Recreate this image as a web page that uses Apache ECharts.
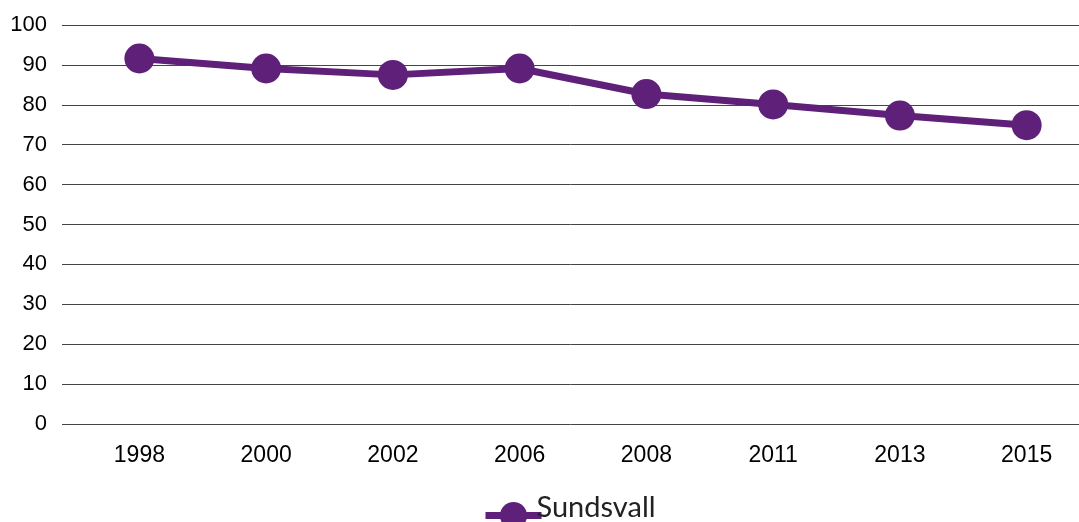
<!DOCTYPE html>
<html><head><meta charset="utf-8">
<script src="https://cdn.jsdelivr.net/npm/echarts@6/dist/echarts.min.js"></script>
<style>html,body{margin:0;padding:0;background:#fff;overflow:hidden}#c{width:1100px;height:522px}</style>
</head><body><div id="c"></div>
<script>
const categories = ['1998','2000','2002','2006','2008','2011','2013','2015'];
const sundsvall = [91.6, 89.1, 87.5, 89.1, 82.7, 80.1, 77.3, 74.9];
const seriesName = 'Sundsvall';
const yTicks = { min: 0, max: 100, interval: 10 };

const chart = echarts.init(document.getElementById('c'), null, {renderer: 'canvas'});
const purple = '#5f2079';
chart.setOption({
  animation: false,
  backgroundColor: '#fff',
  grid: [
    { left: 62, right: 21, top: 25, bottom: 98 },
    { left: 76, width: 1014, top: 25, bottom: 98 }
  ],
  xAxis: [
    { gridIndex: 0, type: 'category', data: categories, show: false },
    { gridIndex: 1, type: 'category', data: categories, boundaryGap: true,
      axisLine: { show: false }, axisTick: { show: false },
      axisLabel: { color: '#000', fontSize: 23, fontFamily: 'Liberation Sans, Arial', margin: 20 } }
  ],
  yAxis: [
    { gridIndex: 0, type: 'value', min: yTicks.min, max: yTicks.max, interval: yTicks.interval,
      axisLine: { show: false }, axisTick: { show: false },
      axisLabel: { color: '#000', fontSize: 22, fontFamily: 'Liberation Sans, Arial', margin: 15 },
      splitLine: { show: true, lineStyle: { color: '#444', width: 1 } } },
    { gridIndex: 1, type: 'value', min: yTicks.min, max: yTicks.max, interval: yTicks.interval, show: false }
  ],
  legend: {
    top: 488, left: 477,
    itemWidth: 56, itemHeight: 34, itemGap: 0,
    lineStyle: { width: 7 },
    formatter: '{a|{name}}',
    textStyle: {
      color: '#222', fontSize: 29, fontFamily: 'Lato, Open Sans, sans-serif', padding: [0, 0, 0, -10],
      rich: { a: { color: '#222', fontSize: 29, fontFamily: 'Lato, Open Sans, sans-serif', padding: [0, 0, 16, 0] } }
    },
    data: [seriesName]
  },
  series: [{
    name: seriesName, type: 'line', xAxisIndex: 1, yAxisIndex: 1,
    data: sundsvall,
    symbol: 'circle', symbolSize: 30,
    lineStyle: { color: purple, width: 7 },
    itemStyle: { color: purple }
  }]
});
</script></body></html>
